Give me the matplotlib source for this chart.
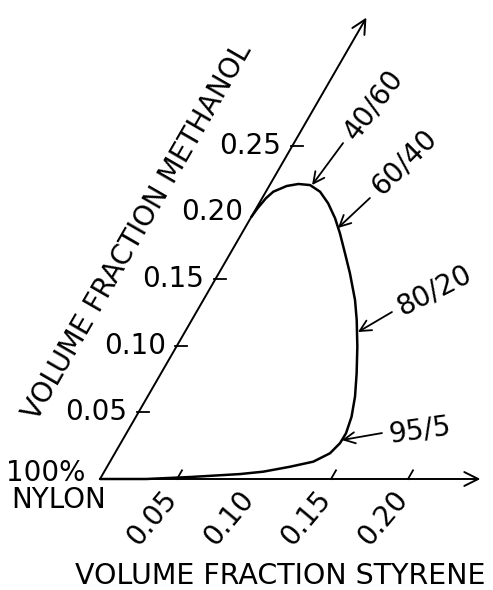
import numpy as np
import matplotlib
matplotlib.use("Agg")
import matplotlib.pyplot as plt

# boundary of the region as (styrene, methanol) volume fractions
styrene = [0.000, 0.030, 0.058, 0.089, 0.1033, 0.1188, 0.1320, 0.1397, 0.1424,
           0.1426, 0.1400, 0.1347, 0.1270, 0.1175, 0.1071, 0.0985, 0.0852,
           0.0745, 0.0637, 0.0549, 0.0448, 0.0352, 0.0262, 0.0182, 0.0114,
           0.0048, 0.0025, 0.0008, 0.000]
methanol = [0.000, 0.000, 0.0015, 0.0037, 0.0055, 0.0092, 0.0130, 0.0193, 0.0268,
            0.0343, 0.0467, 0.0618, 0.0793, 0.0992, 0.1192, 0.1342, 0.1542,
            0.1692, 0.1842, 0.1955, 0.2067, 0.2154, 0.2204, 0.2212, 0.2197,
            0.2154, 0.2105, 0.2030, 0.1964]

# labelled points on the curve
ratio_labels = ["40/60", "60/40", "80/20", "95/5"]
ratio_s = [0.0275, 0.0604, 0.1124, 0.1425]
ratio_m = [0.2204, 0.1882, 0.1102, 0.0292]

s_ticks = [0.05, 0.15, 0.20]
s_ticklabels = ["0.05", "0.10", "0.15", "0.20"]
s_labelpos = [0.05, 0.10, 0.15, 0.20]
m_ticks = [0.05, 0.10, 0.15, 0.25]
m_ticklabels = ["0.05", "0.10", "0.15", "0.20", "0.25"]
m_labelpos = [0.05, 0.10, 0.15, 0.20, 0.25]

s_max = 0.247
m_max = 0.346

SIN60 = np.sqrt(3) / 2


def to_xy(s, m):
    s = np.asarray(s, dtype=float)
    m = np.asarray(m, dtype=float)
    return s + 0.5 * m, SIN60 * m


font = {'family': 'DejaVu Sans', 'size': 20}

fig = plt.figure(figsize=(4.93, 5.90), dpi=100)
ax = fig.add_axes([0, 0, 1, 1])
# 1 fraction unit = 1540 px, origin at pixel (100, 479)
ax.set_xlim(-100 / 1540, 393 / 1540)
ax.set_ylim(-111 / 1540, 479 / 1540)
ax.set_axis_off()

# axes with arrows
ax_arrow = dict(arrowstyle='->,head_length=1.0,head_width=0.5', lw=1.4,
                color='black', shrinkA=0, shrinkB=0, mutation_scale=10)
ax.annotate('', xy=to_xy(s_max, 0), xytext=to_xy(0, 0), arrowprops=ax_arrow)
ax.annotate('', xy=to_xy(0, m_max), xytext=to_xy(0, 0), arrowprops=ax_arrow)

tick_len = 0.0065
for s in s_ticks:
    x0, y0 = to_xy(s, 0)
    x1, y1 = to_xy(s, tick_len)
    ax.plot([x0, x1], [y0, y1], color='black', lw=1.3)
for m in m_ticks:
    x0, y0 = to_xy(-0.001, m)
    x1, y1 = to_xy(tick_len, m)
    ax.plot([x0, x1], [y0, y1], color='black', lw=1.3)

for s, lab in zip(s_labelpos, s_ticklabels):
    x, y = to_xy(s, 0)
    ax.text(x - 0.016, -0.0255, lab, rotation=50, ha='center', va='center',
            fontdict=font)
for m, lab in zip(m_labelpos, m_ticklabels):
    x, y = to_xy(0, m)
    ax.text(x - 0.0072, y, lab, ha='right', va='center', fontdict=font)

# region boundary
X, Y = to_xy(styrene, methanol)
ax.plot(X, Y, color='black', lw=1.8, solid_joinstyle='round',
        solid_capstyle='round')

# ratio labels with arrows (offsets in pixels)
tails = [(31, 42), (32, 30), (34, 20), (40, 7)]
centers = [(61, 80), (66, 66), (76, 42), (78, 10)]
angles = [53, 45, 27, 8]
for lab, s, m, tl, ct, ang in zip(ratio_labels, ratio_s, ratio_m, tails,
                                  centers, angles):
    tip = to_xy(s, m)
    ax.annotate('', xy=tip, xytext=tl, textcoords='offset pixels',
                arrowprops=dict(arrowstyle='->,head_length=0.8,head_width=0.4',
                                lw=1.3, color='black', shrinkA=0, shrinkB=0,
                                mutation_scale=10))
    ax.annotate(lab, xy=tip, xytext=ct, textcoords='offset pixels',
                rotation=ang, ha='center', va='center', fontsize=20,
                family='DejaVu Sans')

ax.text(-0.0610, 0.004, "100%", ha='left', va='center', fontdict=font)
ax.text(-0.0578, -0.0136, "NYLON", ha='left', va='center', fontdict=font)

ax.text(0.1169, -0.0630, "VOLUME FRACTION STYRENE", ha='center', va='center',
        fontdict={'family': 'DejaVu Sans', 'size': 20.5})
ax.text(0.0245, 0.1605, "VOLUME FRACTION METHANOL", ha='center', va='center',
        rotation=60, fontdict={'family': 'DejaVu Sans', 'size': 20})

fig.savefig("out.png", dpi=100, facecolor='white')
